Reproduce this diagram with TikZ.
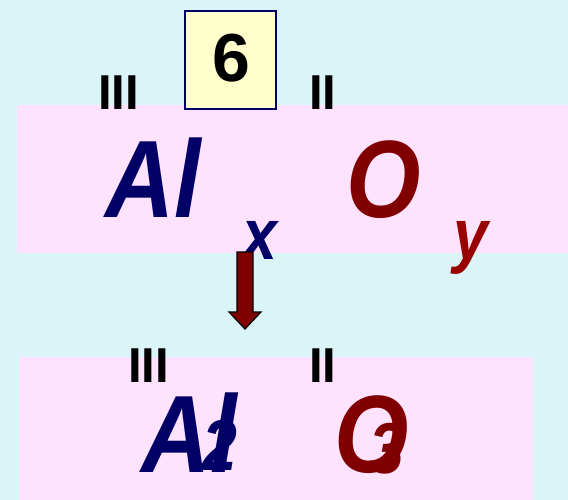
\documentclass[tikz,border=0pt]{standalone}
\usepackage{fontspec}
\setmainfont{Liberation Sans}
\newcommand{\nar}[1]{\scalebox{0.87}[1]{#1}}
\begin{document}
\begin{tikzpicture}[x=1pt,y=-1pt,
  lbl/.style={inner sep=0pt,anchor=base west},
  roman/.style={lbl,font=\fontsize{49}{49}\bfseries\selectfont},
  elem/.style={lbl,font=\fontsize{110}{110}\bfseries\itshape\selectfont},
  sub/.style={lbl,font=\fontsize{72}{72}\bfseries\itshape\selectfont}]
\definecolor{bgc}{HTML}{DAF4F8}
\definecolor{pinkc}{HTML}{FFE2FD}
\definecolor{navyc}{HTML}{000066}
\definecolor{redc}{HTML}{800000}
\definecolor{yc}{HTML}{990000}
\definecolor{yelc}{HTML}{FFFFCC}
\fill[bgc] (0,0) rectangle (568,500);
\useasboundingbox (0,0) rectangle (568,500);
\fill[pinkc] (17,105) rectangle (568,253);
\fill[pinkc] (19,357) rectangle (533,500);
\node[draw=navyc,line width=1.5pt,fill=yelc,minimum width=91pt,minimum height=98pt,inner sep=0pt] (six) at (230.5,60) {};
\node[lbl,font=\fontsize{68}{68}\bfseries\selectfont,anchor=base] (sixt) at (231,82) {6};
\node[roman] (r1) at (98,110) {III};
\node[roman] (r2) at (309,110) {II};
\node[elem,text=navyc] (al1) at (105,218) {\nar{Al}};
\node[sub,text=navyc] (x1) at (242,259) {\nar{x}};
\node[elem,text=redc] (o1) at (346,218) {\nar{O}};
\node[sub,text=yc] (y1) at (453,259) {\nar{y}};
\draw[fill=redc,line width=1.2pt,line join=miter] (237,252) -- (253,252) -- (253,312) -- (261,312) -- (245,329) -- (229,312) -- (237,312) -- cycle;
\node[roman] (r3) at (128,382) {III};
\node[roman] (r4) at (309,382) {II};
\node[elem,text=navyc] (al2) at (141,472) {\nar{Al}};
\node[sub,text=navyc] (two) at (202,470) {\nar{2}};
\node[elem,text=redc] (o2) at (334,472) {\nar{O}};
\node[sub,text=redc] (three) at (369,473) {\nar{3}};
\end{tikzpicture}
\end{document}
